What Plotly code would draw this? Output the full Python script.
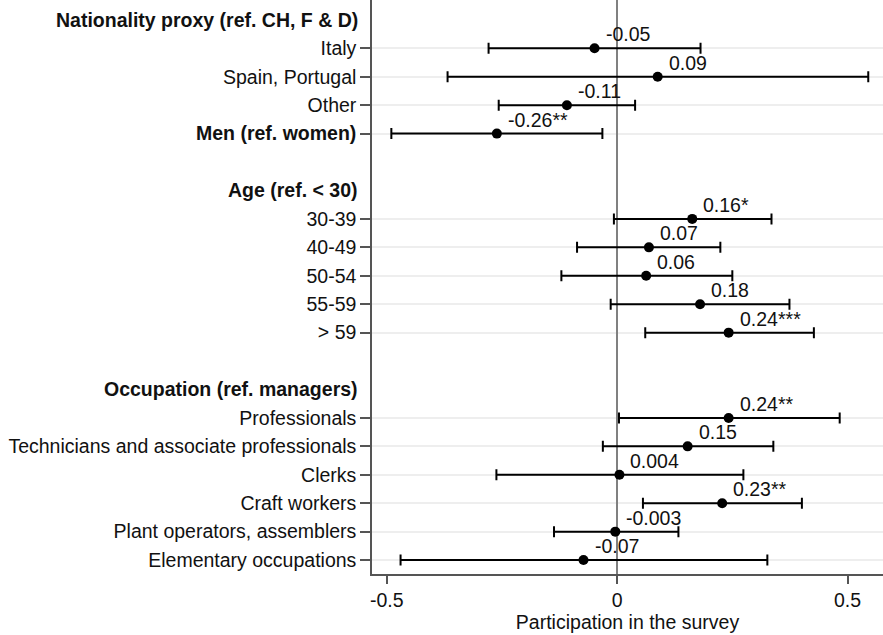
import plotly.graph_objects as go

# Row layout (top to bottom); headers are bold without ticks, "" are spacer rows
rows = ["Nationality proxy (ref. CH, F & D)", "Italy", "Spain, Portugal", "Other",
        "Men (ref. women)", "", "Age (ref. < 30)", "30-39", "40-49", "50-54", "55-59",
        "> 59", "", "Occupation (ref. managers)", "Professionals",
        "Technicians and associate professionals", "Clerks", "Craft workers",
        "Plant operators, assemblers", "Elementary occupations"]
headers = ["Nationality proxy (ref. CH, F & D)", "Age (ref. < 30)", "Occupation (ref. managers)"]
bold_ticks = ["Men (ref. women)"]

categories = ["Italy", "Spain, Portugal", "Other", "Men (ref. women)",
              "30-39", "40-49", "50-54", "55-59", "> 59",
              "Professionals", "Technicians and associate professionals", "Clerks",
              "Craft workers", "Plant operators, assemblers", "Elementary occupations"]
coef = [-0.049, 0.088, -0.109, -0.261,
        0.163, 0.069, 0.063, 0.180, 0.242,
        0.242, 0.153, 0.005, 0.228, -0.004, -0.073]
ci_low = [-0.279, -0.368, -0.257, -0.490,
          -0.007, -0.087, -0.121, -0.014, 0.061,
          0.004, -0.031, -0.262, 0.056, -0.137, -0.470]
ci_high = [0.181, 0.545, 0.039, -0.032,
           0.335, 0.224, 0.250, 0.374, 0.427,
           0.483, 0.339, 0.274, 0.401, 0.133, 0.326]
value_labels = ["-0.05", "0.09", "-0.11", "-0.26**",
                "0.16*", "0.07", "0.06", "0.18", "0.24***",
                "0.24**", "0.15", "0.004", "0.23**", "-0.003", "-0.07"]

FONT = "Liberation Sans, Arial, sans-serif"
TXT = "#111111"
FS = 19.5

ypos = [rows.index(c) for c in categories]
plus = [h - c for h, c in zip(ci_high, coef)]
minus = [c - l for c, l in zip(coef, ci_low)]

fig = go.Figure()
fig.add_trace(go.Scatter(
    x=coef, y=ypos, mode="markers",
    marker=dict(color="black", size=10),
    error_x=dict(type="data", symmetric=False, array=plus, arrayminus=minus,
                 color="black", thickness=2, width=5.5),
    showlegend=False, hoverinfo="skip",
))

for c, y, t in zip(coef, ypos, value_labels):
    fig.add_annotation(x=c, y=y, xref="x", yref="y", text=t, showarrow=False,
                       xanchor="left", yanchor="middle", xshift=9, yshift=14,
                       font=dict(family=FONT, size=FS, color=TXT))

for h in headers:
    fig.add_annotation(x=0, y=rows.index(h), xref="paper", yref="y",
                       text="<b>" + h + "</b>", showarrow=False,
                       xanchor="right", yanchor="middle", xshift=-12,
                       font=dict(family=FONT, size=FS, color=TXT))

ticktext = ["<b>" + c + "</b>" if c in bold_ticks else c for c in categories]

fig.update_layout(
    width=883, height=635,
    margin=dict(l=372, r=0, t=0, b=61),
    plot_bgcolor="white", paper_bgcolor="white",
    font=dict(family=FONT, size=FS, color=TXT),
    xaxis=dict(range=[-0.532, 0.577], tickvals=[-0.5, 0, 0.5], ticktext=["-0.5", "0", "0.5"],
               ticks="outside", ticklen=8, tickcolor="#555", tickwidth=1.5,
               showline=True, linecolor="#555", linewidth=1.5,
               showgrid=False, zeroline=True, zerolinecolor="#808080", zerolinewidth=2,
               title=dict(text="Participation in the survey", standoff=2,
                          font=dict(family=FONT, size=FS, color=TXT)),
               tickfont=dict(family=FONT, size=FS, color=TXT)),
    yaxis=dict(range=[19.49, -0.70], tickvals=ypos, ticktext=ticktext,
               ticks="outside", ticklen=10, tickcolor="#555", tickwidth=1.5,
               showline=True, linecolor="#555", linewidth=1.5,
               showgrid=True, gridcolor="#eeeeee", gridwidth=1.5, zeroline=False,
               tickfont=dict(family=FONT, size=FS, color=TXT)),
)

fig.write_html("out.html", config={"displayModeBar": False},
               post_script="document.body.style.margin='0';")
